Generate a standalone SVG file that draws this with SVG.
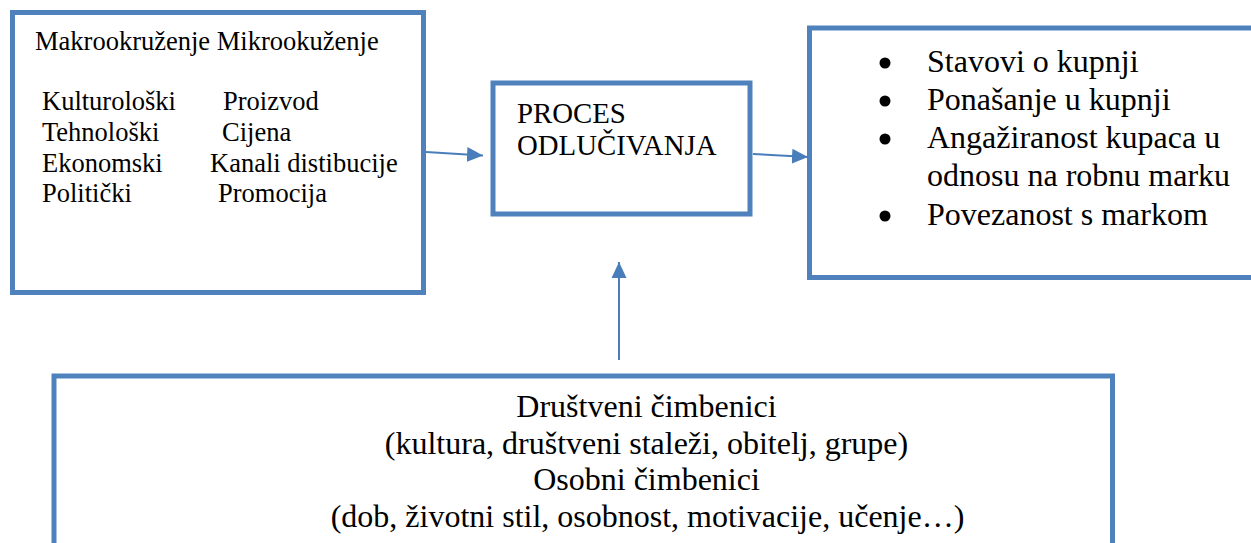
<svg xmlns="http://www.w3.org/2000/svg" width="1251" height="543" viewBox="0 0 1251 543">
<style>
.box{fill:#fff;stroke:#4F81BD;stroke-width:5}
.conn{stroke:#4A7EBB;stroke-width:2;fill:none}
</style>
<defs>
<marker id="ah" markerUnits="userSpaceOnUse" markerWidth="16" markerHeight="16" viewBox="0 0 16 16" refX="16" refY="8" orient="auto">
<path d="M0,0.5 L16,8 L0,15.5 Z" fill="#4A7EBB"/>
</marker>
</defs>
<rect width="1251" height="543" fill="#fff"/>
<g id="macro" font-family="'Liberation Serif', 'Times New Roman', 'DejaVu Serif', serif" font-size="26.5" fill="#000">
<rect class="box" x="12.5" y="12.5" width="411" height="280"/>
<text x="35" y="50">Makrookruženje Mikrookuženje</text>
<text x="42" y="110">Kulturološki</text>
<text x="223" y="110">Proizvod</text>
<text x="42" y="141">Tehnološki</text>
<text x="222" y="141">Cijena</text>
<text x="42" y="172">Ekonomski</text>
<text x="210" y="172">Kanali distibucije</text>
<text x="42" y="202">Politički</text>
<text x="218" y="202">Promocija</text>
</g>
<g id="proces" font-family="'Liberation Serif', 'Times New Roman', 'DejaVu Serif', serif" font-size="28.8" fill="#000">
<rect class="box" x="493" y="83" width="257" height="131"/>
<text x="517" y="123">PROCES</text>
<text x="517" y="155">ODLUČIVANJA</text>
</g>
<g id="outcomes" font-family="'Liberation Serif', 'Times New Roman', 'DejaVu Serif', serif" font-size="32" fill="#000">
<rect class="box" x="809.5" y="28" width="460" height="249.5"/>
<circle cx="885" cy="63" r="5.5" fill="#000"/>
<circle cx="885" cy="101" r="5.5" fill="#000"/>
<circle cx="885" cy="139" r="5.5" fill="#000"/>
<circle cx="885" cy="216" r="5.5" fill="#000"/>
<text x="927" y="72">Stavovi o kupnji</text>
<text x="927" y="110">Ponašanje u kupnji</text>
<text x="927" y="148">Angažiranost kupaca u</text>
<text x="927" y="186">odnosu na robnu marku</text>
<text x="927" y="225">Povezanost s markom</text>
</g>
<g id="factors" font-family="'Liberation Serif', 'Times New Roman', 'DejaVu Serif', serif" font-size="32" fill="#000" text-anchor="middle">
<rect class="box" x="54" y="376" width="1058.5" height="200"/>
<text x="646.5" y="417">Društveni čimbenici</text>
<text x="646.5" y="453.5">(kultura, društveni staleži, obitelj, grupe)</text>
<text x="646.5" y="490">Osobni čimbenici</text>
<text x="647.5" y="527">(dob, životni stil, osobnost, motivacije, učenje…)</text>
</g>
<g id="connectors">
<line class="conn" x1="426" y1="152" x2="483" y2="155.5" marker-end="url(#ah)"/>
<line class="conn" x1="753" y1="154" x2="808" y2="157" marker-end="url(#ah)"/>
<line class="conn" x1="619" y1="360" x2="619" y2="262" marker-end="url(#ah)"/>
</g>
</svg>
